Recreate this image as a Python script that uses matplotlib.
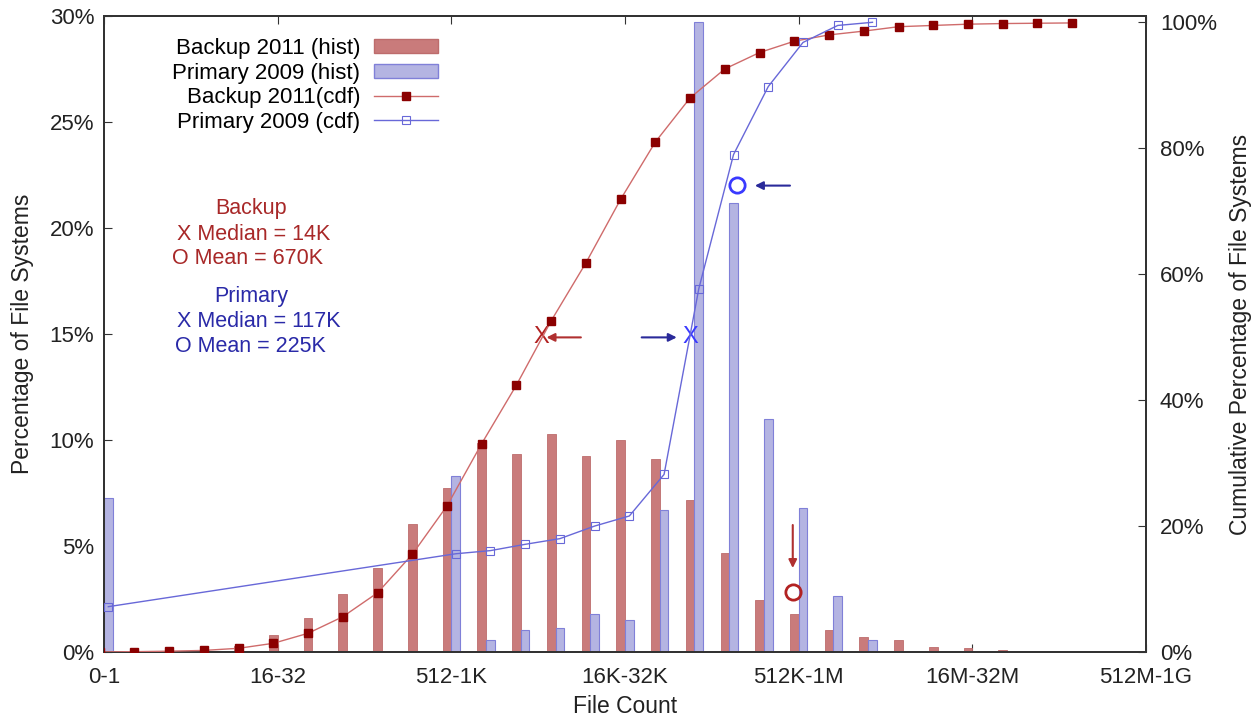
import numpy as np
import matplotlib
matplotlib.use("Agg")
import matplotlib.pyplot as plt
from matplotlib.patches import Patch
from matplotlib.lines import Line2D
from matplotlib.ticker import FuncFormatter

plt.rcParams["font.family"] = ["Liberation Sans", "DejaVu Sans"]

# ---- data ----
bins = ["0-1", "1-2", "2-4", "4-8", "8-16", "16-32", "32-64", "64-128",
        "128-256", "256-512", "512-1K", "1K-2K", "2K-4K", "4K-8K", "8K-16K",
        "16K-32K", "32K-64K", "64K-128K", "128K-256K", "256K-512K", "512K-1M",
        "1M-2M", "2M-4M", "4M-8M", "8M-16M", "16M-32M", "32M-64M",
        "64M-128M", "128M-256M", "256M-512M", "512M-1G"]

nan = np.nan
backup_hist = [0, 0.05, 0.08, 0.12, 0.3, 0.82, 1.59, 2.74, 3.98, 6.02,
               7.75, 9.84, 9.34, 10.28, 9.23, 10.0, 9.12, 7.17, 4.65, 2.45,
               1.79, 1.04, 0.72, 0.57, 0.25, 0.18, 0.08, 0.06, 0.05, 0, 0]
primary_hist = [7.28, nan, nan, nan, nan, nan, nan, nan, nan, nan,
                8.3, 0.57, 1.04, 1.12, 1.78, 1.51, 6.7, 29.7, 21.2, 11.0,
                6.8, 2.64, 0.57, nan, nan, nan, nan, nan, nan, nan, nan]
backup_cdf = [0, 0.05, 0.13, 0.25, 0.59, 1.38, 2.97, 5.6, 9.4, 15.5,
              23.2, 33.1, 42.4, 52.6, 61.8, 71.9, 81.0, 88.0, 92.6, 95.2,
              97.0, 98.0, 98.6, 99.3, 99.5, 99.7, 99.8, 99.85, 99.9, nan, nan]
primary_cdf = [7.2, nan, nan, nan, nan, nan, nan, nan, nan, nan,
               15.6, 16.1, 17.1, 18.0, 20.0, 21.6, 28.2, 57.7, 79.0, 89.8,
               96.8, 99.5, 100.0, nan, nan, nan, nan, nan, nan, nan, nan]

RED_BAR = "#c97b7b"
RED_EDGE = "#bd6c6c"
BLUE_BAR = "#b4b4e2"
BLUE_EDGE = "#8080d8"
RED_LINE = "#cf6b6b"
RED_MARK = "#8b0000"
BLUE_LINE = "#6868d8"
RED_TXT = "#a82828"
BLUE_TXT = "#2a2aa8"

x = np.arange(len(bins))
bh = np.array(backup_hist, dtype=float)
ph = np.array(primary_hist, dtype=float)
bc = np.array(backup_cdf, dtype=float)
pc = np.array(primary_cdf, dtype=float)
w = 0.25

fig = plt.figure(figsize=(12.55, 7.19), dpi=100)
ax = fig.add_axes([104 / 1255, 1 - 652 / 719, (1146 - 104) / 1255, (652 - 16) / 719])
ax2 = ax.twinx()

# histograms
ok = ~np.isnan(bh)
ax.bar(x[ok] - w, bh[ok], width=w, align="edge", color=RED_BAR,
       edgecolor=RED_EDGE, linewidth=0.6, zorder=2)
ok = ~np.isnan(ph)
ax.bar(x[ok], ph[ok], width=w, align="edge", color=BLUE_BAR,
       edgecolor=BLUE_EDGE, linewidth=0.8, zorder=2)

# cdfs
ok = ~np.isnan(bc)
ax2.plot(x[ok] - w / 2, bc[ok], color=RED_LINE, lw=1.0, marker="s",
         ms=5.5, mfc=RED_MARK, mec=RED_MARK, zorder=3)
ok = ~np.isnan(pc)
ax2.plot(x[ok] + w / 2, pc[ok], color=BLUE_LINE, lw=1.0, marker="s",
         ms=6, mfc="none", mec=BLUE_LINE, mew=0.8, zorder=3)

ax.set_xlim(0, 30)
ax.set_ylim(0, 30)
ax2.set_ylim(0, 101)

ax.set_xticks(x[::5])
ax.set_xticklabels(bins[::5])
ax.set_yticks(np.arange(0, 31, 5))
ax2.set_yticks(np.arange(0, 101, 20))
pct = FuncFormatter(lambda v, p: f"{v:.0f}%")
ax.yaxis.set_major_formatter(pct)
ax2.yaxis.set_major_formatter(pct)

ax.tick_params(axis="x", direction="in", length=6, top=True, labelsize=16,
               pad=11, color="#333333", labelcolor="#222222")
ax.tick_params(axis="y", direction="in", length=6, labelsize=16, pad=7,
               color="#333333", labelcolor="#222222")
ax2.tick_params(axis="y", direction="in", length=6, labelsize=16, pad=10,
                color="#333333", labelcolor="#222222")
for a in (ax, ax2):
    for s in a.spines.values():
        s.set_linewidth(1.4)
        s.set_color("#333333")

ax.set_xlabel("File Count", fontsize=16.5, labelpad=5, color="#222222")
ax.set_ylabel("Percentage of File Systems", fontsize=16.5, labelpad=11, color="#222222")
ax2.set_ylabel("Cumulative Percentage of File Systems", fontsize=16.5, labelpad=9,
               color="#222222")

# median / mean annotations
fs = 15.5
ax.text(4.23, 20.93, "Backup", color=RED_TXT, fontsize=fs, ha="center", va="center")
ax.text(2.09, 19.67, "X Median = 14K", color=RED_TXT, fontsize=fs, ha="left", va="center")
ax.text(1.96, 18.58, "O Mean = 670K", color=RED_TXT, fontsize=fs, ha="left", va="center")
ax.text(4.23, 16.76, "Primary", color=BLUE_TXT, fontsize=fs, ha="center", va="center")
ax.text(2.09, 15.58, "X Median = 117K", color=BLUE_TXT, fontsize=fs, ha="left", va="center")
ax.text(2.04, 14.40, "O Mean = 225K", color=BLUE_TXT, fontsize=fs, ha="left", va="center")

arrow_kw = dict(arrowstyle="-|>", lw=1.5, mutation_scale=12, shrinkA=0, shrinkB=0)
# backup median
ax.text(12.58, 14.84, "X", color="#b22222", fontsize=17, ha="center", va="center", zorder=5)
ax.annotate("", xy=(12.74, 14.84), xytext=(13.73, 14.84),
            arrowprops=dict(color="#b03030", **arrow_kw), zorder=5)
# primary median
ax.text(16.87, 14.84, "X", color="#3a3aff", fontsize=17, ha="center", va="center", zorder=5)
ax.annotate("", xy=(16.49, 14.84), xytext=(15.48, 14.84),
            arrowprops=dict(color="#2a2a9a", **arrow_kw), zorder=5)
# primary mean
ax.plot([18.22], [22.03], marker="o", ms=11, mfc="none", mec="#3a3aff", mew=2, zorder=5)
ax.annotate("", xy=(18.74, 22.0), xytext=(19.75, 22.0),
            arrowprops=dict(color="#2a2a9a", **arrow_kw), zorder=5)
# backup mean
ax.plot([19.83], [2.84], marker="o", ms=11, mfc="none", mec="#b22222", mew=2, zorder=5)
ax.annotate("", xy=(19.83, 3.96), xytext=(19.83, 5.99),
            arrowprops=dict(color="#b03030", **arrow_kw), zorder=5)

# legend (labels right-aligned, samples on the right)
handles = [
    Patch(facecolor=RED_BAR, edgecolor=RED_EDGE),
    Patch(facecolor=BLUE_BAR, edgecolor=BLUE_EDGE),
    Line2D([], [], color=RED_LINE, lw=1.0, marker="s", ms=5.5, mfc=RED_MARK, mec=RED_MARK),
    Line2D([], [], color=BLUE_LINE, lw=1.0, marker="s", ms=6, mfc="none", mec=BLUE_LINE, mew=0.8),
]
labels = ["Backup 2011 (hist)", "Primary 2009 (hist)", "Backup 2011(cdf)", "Primary 2009 (cdf)"]
leg = ax2.legend(handles, labels, loc="upper right", markerfirst=False, frameon=False,
                 fontsize=16, handlelength=2.9, handleheight=0.6, handletextpad=0.6,
                 labelspacing=0.16, borderpad=0, borderaxespad=0,
                 bbox_to_anchor=(438 / 1255, 1 - 38 / 719), bbox_transform=fig.transFigure)

fig.savefig("out.png", dpi=100)
